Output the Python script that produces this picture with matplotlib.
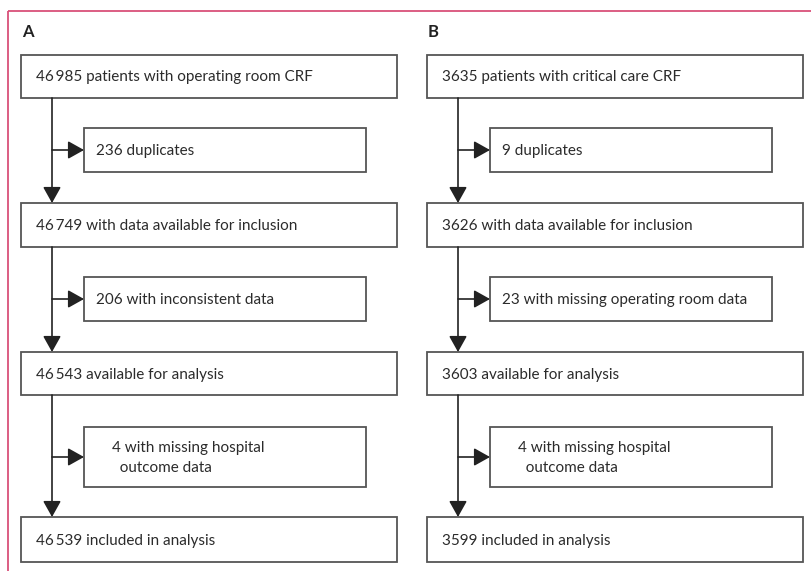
import matplotlib.pyplot as plt
from matplotlib.patches import Rectangle

plt.rcParams['font.family'] = ['Lato', 'DejaVu Sans']

# flow chart data
panels = ['A', 'B']
main_counts = {
    'A': ['46\u2009985', '46\u2009749', '46\u2009543', '46\u2009539'],
    'B': ['3635', '3626', '3603', '3599'],
}
main_text = {
    'A': ['patients with operating room CRF', 'with data available for inclusion',
          'available for analysis', 'included in analysis'],
    'B': ['patients with critical care CRF', 'with data available for inclusion',
          'available for analysis', 'included in analysis'],
}
excl_counts = {'A': [236, 206, 4], 'B': [9, 23, 4]}
excl_text = {
    'A': ['duplicates', 'with inconsistent data', 'with missing hospital\n  outcome data'],
    'B': ['duplicates', 'with missing operating room data', 'with missing hospital\n  outcome data'],
}

W, H = 812, 571
fig = plt.figure(figsize=(W / 100, H / 100), dpi=100)
ax = fig.add_axes([0, 0, 1, 1])
ax.set_xlim(0, W)
ax.set_ylim(H, 0)
ax.axis('off')

pink = '#d9507a'
ax.plot([8, W], [10.5, 10.5], color=pink, lw=1.3, solid_capstyle='butt')
ax.plot([8, 8], [10.5, H], color=pink, lw=1.3, solid_capstyle='butt')

edge = '#555555'
txtc = '#2b2b2b'
main_y = [(55, 98), (203, 247), (352, 395), (517, 562)]
side_y = [(128, 172), (277, 321), (427, 487)]
x0s = {'A': 0, 'B': 406}
arrow = dict(arrowstyle='-|>,head_length=0.75,head_width=0.42', color='#222222',
             lw=1.2, shrinkA=0, shrinkB=0, mutation_scale=13)

for p in panels:
    dx = x0s[p]
    bl, br = 21 + dx, 397 + dx
    sl, sr = 84 + dx, 366 + dx
    vx = 52 + dx
    ax.text(bl + 1, 32, p, fontsize=12, fontweight='bold', color='#222222', va='center', ha='left')
    for i, (t, b) in enumerate(main_y):
        ax.add_patch(Rectangle((bl, t), br - bl, b - t, fill=False, ec=edge, lw=1.3))
        ax.text(bl + 15, (t + b) / 2 + 1, main_counts[p][i] + ' ' + main_text[p][i],
                fontsize=11, color=txtc, va='center', ha='left')
    for i, (t, b) in enumerate(side_y):
        ax.add_patch(Rectangle((sl, t), sr - sl, b - t, fill=False, ec=edge, lw=1.3))
        label = str(excl_counts[p][i]) + ' ' + excl_text[p][i]
        tx = sl + 12 if '\n' not in label else sl + 28
        ax.text(tx, (t + b) / 2 + 1, label, fontsize=11, color=txtc, va='center', ha='left',
                linespacing=1.6)
        # vertical arrow down to the next main box
        ax.annotate('', xy=(vx, main_y[i + 1][0]), xytext=(vx, main_y[i][1]), arrowprops=arrow)
        # horizontal arrow into the exclusion box
        ay = (t + b) / 2
        ax.annotate('', xy=(sl, ay), xytext=(vx, ay), arrowprops=arrow)

fig.savefig('out.png', dpi=100, facecolor='white')
